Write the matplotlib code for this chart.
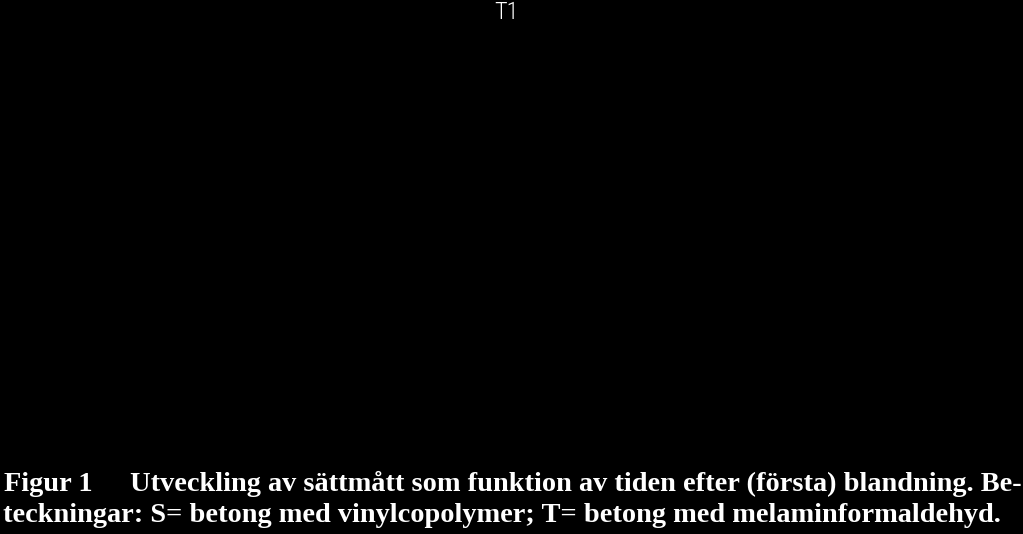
import matplotlib.pyplot as plt

##############
# Texts
##############

panel_title = 'T1'
caption_head = 'Figur 1'
caption_line1 = 'Utveckling av sättmått som funktion av tiden efter (första) blandning. Be-'
caption_line2 = 'teckningar: S= betong med vinylcopolymer; T= betong med melaminformaldehyd.'

##############
# Figure
##############

fig = plt.figure(figsize=(10.23, 5.34), dpi=100, facecolor='black')

# the plot area is all black in the scan, nothing readable in it
ax = fig.add_axes([0.0, 0.2, 1.0, 0.8])
ax.set_facecolor('black')
ax.axis('off')

fig.text(506.5 / 1023, 0.998, panel_title, color='white', fontsize=17.5,
         family=['Roboto Condensed', 'Liberation Sans Narrow', 'Roboto'],
         fontweight='light', ha='center', va='top')

serif = dict(color='white', fontsize=20.4, fontweight='bold',
             family='Liberation Serif')

fig.text(4 / 1023, 1 - 491 / 534, caption_head, ha='left',
         va='baseline', **serif)
fig.text(1022 / 1023, 1 - 491 / 534, caption_line1, ha='right',
         va='baseline', **serif)
fig.text(3 / 1023, 1 - 522 / 534, caption_line2, ha='left',
         va='baseline', **serif)

fig.savefig('out.png', dpi=100, facecolor='black')
